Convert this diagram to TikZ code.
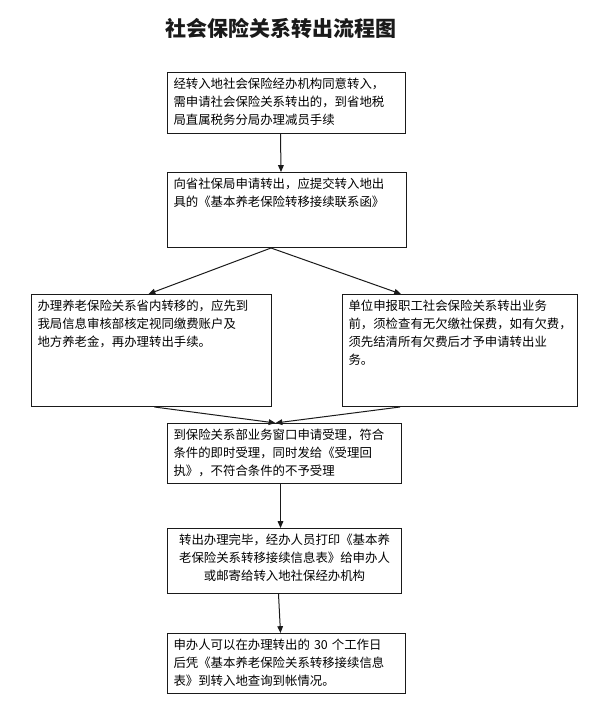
\documentclass[tikz,border=0pt]{standalone}
\usepackage{fontspec}
\newfontfamily\cjk{Noto Sans CJK SC}
\usepackage{tikz}
\usetikzlibrary{arrows.meta,positioning,calc}
\definecolor{ink}{HTML}{1A1A1A}
\tikzset{
  >={Triangle[length=2.4mm,width=2mm]},
  box/.style={draw=ink,line width=1pt,inner xsep=6pt,inner ysep=6pt,anchor=north west,font=\cjk\fontsize{12.4}{18}\selectfont,align=left,text height=10pt},
  ttl/.style={font=\cjk\bfseries\fontsize{21}{24}\selectfont,text=ink},
  arr/.style={->,draw=ink,line width=1pt},
}
\begin{document}
\begin{tikzpicture}[x=1pt,y=-1pt,
  bx/.style n args={2}{box,text width=#1,text depth=#2}]
\useasboundingbox (0,0) rectangle (599,708);
\node[ttl] (t) at (281,28) {社会保险关系转出流程图};
\node[bx={226pt}{39pt}] (a) at (167,72) {经转入地社会保险经办机构同意转入，\\需申请社会保险关系转出的，到省地税\\局直属税务分局办理减员手续};
\node[bx={227pt}{53pt}] (b) at (167,172) {向省社保局申请转出，应提交转入地出\\具的《基本养老保险转移接续联系函》};
\node[bx={228pt}{90pt}] (l) at (31,294) {办理养老保险关系省内转移的，应先到\\我局信息审核部核定视同缴费账户及\\地方养老金，再办理转出手续。};
\node[bx={223pt}{90pt}] (r) at (342,294) {单位申报职工社会保险关系转出业务\\前，须检查有无欠缴社保费，如有欠费，\\须先结清所有欠费后才予申请转出业\\务。};
\node[bx={222pt}{38pt}] (c) at (167,423) {到保险关系部业务窗口申请受理，符合\\条件的即时受理，同时发给《受理回\\执》，不符合条件的不予受理};
\node[bx={222pt}{43pt},align=center] (e) at (167,528) {转出办理完毕，经办人员打印《基本养\\老保险关系转移接续信息表》给申办人\\或邮寄给转入地社保经办机构};
\node[bx={226pt}{38pt}] (f) at (167,633) {申办人可以在办理转出的 30 个工作日\\后凭《基本养老保险关系转移接续信息\\表》到转入地查询到帐情况。};
% arrows
\foreach \u/\v/\s in {a/b/-6,c/e/-4,e/f/-6}
  \draw[arr] ([xshift=\s pt]\u.south) -- ([xshift=\s pt]\v.north);
\draw[arr] ([xshift=-16pt]b.south) -- ([xshift=-3pt]l.north);
\draw[arr] ([xshift=-16pt]b.south) -- ([xshift=59pt]r.north west);
\draw[arr] ([xshift=3pt]l.south) -- ([xshift=-9pt]c.north);
\draw[arr] ([xshift=-60pt]r.south) -- ([xshift=-9pt]c.north);
\end{tikzpicture}
\end{document}
